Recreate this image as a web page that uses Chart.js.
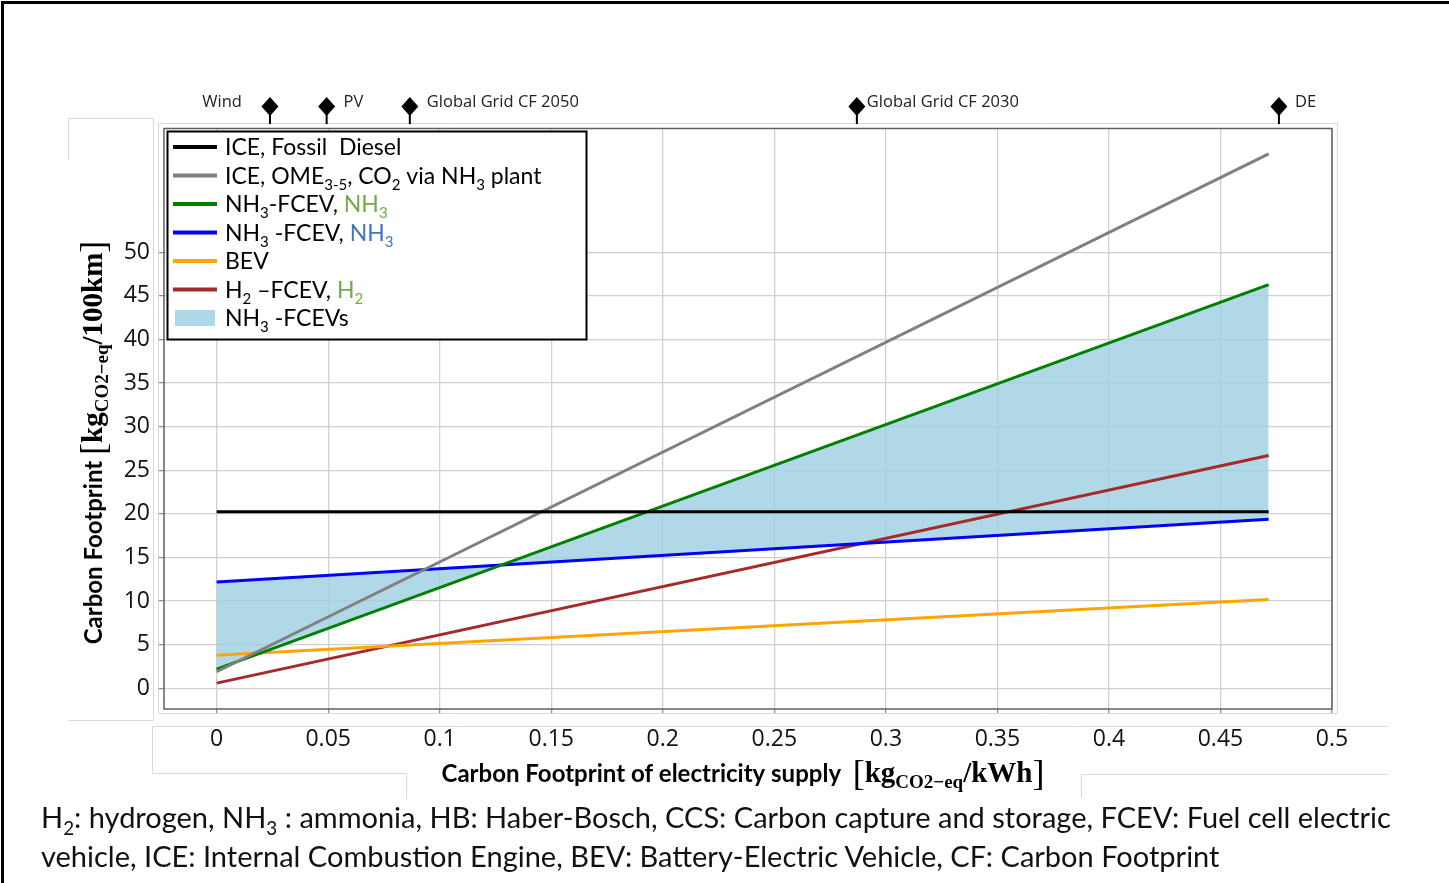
<!DOCTYPE html>
<html>
<head>
<meta charset="utf-8">
<script src="https://cdn.jsdelivr.net/npm/chart.js@4.4.0/dist/chart.umd.min.js"></script>
<style>
   html, body { margin: 0; padding: 0; background: #fff; }
   #wrap { position: relative; width: 1449px; height: 883px; overflow: hidden; }
   #graph { position: absolute; left: 0; top: 0; }
   #frame { position: absolute; left: 1px; top: 1px; width: 1470px; height: 900px;
            border-top: 3px solid #000; border-left: 3px solid #000; pointer-events: none; }
   #caption { position: absolute; left: 41px; top: 797px; white-space: nowrap;
              font-family: Lato, "Open Sans", sans-serif; font-size: 29px; line-height: 39px; color: #111; }
   #caption sub { font-size: 0.65em; vertical-align: -0.35em; line-height: 0; }
</style>
</head>
<body>
<div id="wrap">
   <canvas id="graph" width="1449" height="883"></canvas>
   <div id="frame"></div>
   <div id="caption">H<sub>2</sub>: hydrogen, NH<sub>3</sub> : ammonia, HB: Haber-Bosch, CCS: Carbon capture and storage, FCEV: Fuel cell electric<br>vehicle, ICE: Internal Combustion Engine, BEV: Battery-Electric Vehicle, CF: Carbon Footprint</div>
</div>
<script>
// values (x = electricity CF in kg/kWh, y = kg CO2-eq / 100 km)
const xPoints = [0, 0.4716];
const fossilDiesel = [20.25, 20.25];
const iceOme = [1.9, 61.3];
const nh3FcevGreen = [2.2, 46.3];
const nh3FcevBlue = [12.2, 19.4];
const bev = [3.8, 10.2];
const h2Fcev = [0.6, 26.7];

const xTicks = [0, 0.05, 0.1, 0.15, 0.2, 0.25, 0.3, 0.35, 0.4, 0.45, 0.5];
const yTicks = [0, 5, 10, 15, 20, 25, 30, 35, 40, 45, 50];

const markerLabels = ["Wind", "PV", "Global Grid CF 2050", "Global Grid CF 2030", "DE"];
const markerValues = [0.0239, 0.0493, 0.0866, 0.287, 0.4762];

const fillColor = "rgba(160, 208, 224, 0.82)";
const textFont = "Lato, 'Open Sans', sans-serif";
const mathFont = "'Liberation Serif', 'DejaVu Serif', serif";

function toPoints(ys)
{
   return xPoints.map((x, i) => ({ x: x, y: ys[i] }));
}

function runsWidth(ctx, runs)
{
   let w = 0;
   runs.forEach(r => { ctx.font = r.font; w += ctx.measureText(r.t).width; });
   return w;
}

function drawRuns(ctx, runs, x, y)
{
   runs.forEach(r =>
   {
      ctx.font = r.font;
      ctx.fillStyle = r.color || "#000";
      ctx.fillText(r.t, x, y + (r.dy || 0));
      x += ctx.measureText(r.t).width;
   });
   return x;
}

// legend text pieces
const lf = "23px " + textFont;
const ls = "15px " + textFont;
const green2 = "#70ad47";
const blue2 = "#4472c4";
const legendItems =
[
   { color: "#000000", runs: [{ t: "ICE, Fossil  Diesel", font: lf }] },
   { color: "#808080", runs: [{ t: "ICE, OME", font: lf }, { t: "3-5", font: ls, dy: 6 }, { t: ", CO", font: lf }, { t: "2", font: ls, dy: 6 }, { t: " via NH", font: lf }, { t: "3", font: ls, dy: 6 }, { t: " plant", font: lf }] },
   { color: "#008000", runs: [{ t: "NH", font: lf }, { t: "3", font: ls, dy: 6 }, { t: "-FCEV, ", font: lf }, { t: "NH", font: lf, color: green2 }, { t: "3", font: ls, dy: 6, color: green2 }] },
   { color: "#0000ff", runs: [{ t: "NH", font: lf }, { t: "3", font: ls, dy: 6 }, { t: " -FCEV, ", font: lf }, { t: "NH", font: lf, color: blue2 }, { t: "3", font: ls, dy: 6, color: blue2 }] },
   { color: "#ffa500", runs: [{ t: "BEV", font: lf }] },
   { color: "#a52a2a", runs: [{ t: "H", font: lf }, { t: "2", font: ls, dy: 6 }, { t: " \u2013FCEV, ", font: lf }, { t: "H", font: lf, color: green2 }, { t: "2", font: ls, dy: 6, color: green2 }] },
   { box: true, runs: [{ t: "NH", font: lf }, { t: "3", font: ls, dy: 6 }, { t: " -FCEVs", font: lf }] }
];

const decorPlugin =
{
   id: "decor",
   beforeDraw(chart)
   {
      const ctx = chart.ctx;
      ctx.save();
      ctx.strokeStyle = "#d9d9d9";
      ctx.lineWidth = 1;
      ctx.beginPath();
      // y-title box
      ctx.moveTo(68.5, 160); ctx.lineTo(68.5, 118.5); ctx.lineTo(153.5, 118.5); ctx.lineTo(153.5, 720.5); ctx.lineTo(68.5, 720.5);
      // x-title box
      ctx.moveTo(1388, 726.5); ctx.lineTo(152.5, 726.5); ctx.lineTo(152.5, 773.5); ctx.lineTo(406.5, 773.5); ctx.lineTo(406.5, 799);
      ctx.moveTo(1388, 774.5); ctx.lineTo(1081.5, 774.5); ctx.lineTo(1081.5, 798);
      // outer plot frame
      ctx.rect(158.5, 123.5, 1179, 590);
      ctx.stroke();
      ctx.restore();
   },
   afterDatasetsDraw(chart)
   {
      const ctx = chart.ctx;
      const a = chart.chartArea;
      ctx.save();
      ctx.strokeStyle = "#606060";
      ctx.lineWidth = 1.5;
      ctx.strokeRect(a.left, a.top, a.right - a.left, a.bottom - a.top);
      ctx.restore();
   },
   afterDraw(chart)
   {
      const ctx = chart.ctx;
      const xs = chart.scales.x;
      ctx.save();

      // site markers above the plot
      ctx.textBaseline = "middle";
      markerValues.forEach((v, i) =>
      {
         const px = xs.getPixelForValue(v);
         ctx.fillStyle = "#000";
         ctx.beginPath();
         ctx.moveTo(px, 97);
         ctx.lineTo(px + 8.5, 106.5);
         ctx.lineTo(px, 116);
         ctx.lineTo(px - 8.5, 106.5);
         ctx.closePath();
         ctx.fill();
         ctx.fillRect(px - 1, 112, 2, 12);
         ctx.font = "16.5px 'Open Sans', sans-serif";
         ctx.fillStyle = "#222";
         if (i === 0)
         {
            ctx.textAlign = "right";
            ctx.fillText(markerLabels[i], px - 28, 102);
         }
         else
         {
            ctx.textAlign = "left";
            ctx.fillText(markerLabels[i], px + (i === 3 ? 10 : (i === 4 ? 16 : 17)), 102);
         }
      });

      // legend box
      ctx.textAlign = "left";
      ctx.textBaseline = "alphabetic";
      const lx = 167.5, ly = 131.5, lw = 419, lh = 208;
      ctx.fillStyle = "#fff";
      ctx.fillRect(lx, ly, lw, lh);
      ctx.strokeStyle = "#000";
      ctx.lineWidth = 2;
      ctx.strokeRect(lx, ly, lw, lh);
      legendItems.forEach((item, i) =>
      {
         const cy = 147 + i * 28.5;
         if (item.box)
         {
            ctx.fillStyle = "#add8e6";
            ctx.fillRect(175, cy - 8, 40, 16);
         }
         else
         {
            ctx.strokeStyle = item.color;
            ctx.lineWidth = 4;
            ctx.beginPath();
            ctx.moveTo(173, cy);
            ctx.lineTo(217, cy);
            ctx.stroke();
         }
         drawRuns(ctx, item.runs, 225, cy + 8);
      });

      // axis titles
      const bf = "bold 24px " + textFont;
      const mf = "bold 29px " + mathFont;
      const ms = "bold 19px " + mathFont;
      const bk = "36px " + mathFont;
      const yTitle = [{ t: "Carbon Footprint ", font: bf }, { t: "[", font: bk, dy: 3 }, { t: "kg", font: mf }, { t: "CO2\u2212eq", font: ms, dy: 6 }, { t: "/100km", font: mf }, { t: "]", font: bk, dy: 3 }];
      const xTitle = [{ t: "Carbon Footprint of electricity supply  ", font: bf }, { t: "[", font: bk, dy: 3 }, { t: "kg", font: mf }, { t: "CO2\u2212eq", font: ms, dy: 6 }, { t: "/kWh", font: mf }, { t: "]", font: bk, dy: 3 }];

      ctx.save();
      ctx.translate(102, 442.5);
      ctx.rotate(-Math.PI / 2);
      drawRuns(ctx, yTitle, -runsWidth(ctx, yTitle) / 2, 0);
      ctx.restore();

      drawRuns(ctx, xTitle, 743 - runsWidth(ctx, xTitle) / 2, 782);
      ctx.restore();
   }
};

new Chart(document.getElementById("graph").getContext("2d"),
{
   type: "line",
   data:
   {
      datasets:
      [
         { label: "ICE, Fossil Diesel", data: toPoints(fossilDiesel), borderColor: "#000000", borderWidth: 3, pointRadius: 0, fill: false },
         { label: "ICE, OME3-5, CO2 via NH3 plant", data: toPoints(iceOme), borderColor: "#808080", borderWidth: 3, pointRadius: 0, fill: false },
         { label: "NH3-FCEV, NH3 (green)", data: toPoints(nh3FcevGreen), borderColor: "#008000", borderWidth: 3, pointRadius: 0,
           fill: { target: 3, above: fillColor, below: fillColor } },
         { label: "NH3-FCEV, NH3 (blue)", data: toPoints(nh3FcevBlue), borderColor: "#0000ff", borderWidth: 3, pointRadius: 0, fill: false },
         { label: "BEV", data: toPoints(bev), borderColor: "#ffa500", borderWidth: 3, pointRadius: 0, fill: false },
         { label: "H2-FCEV, H2", data: toPoints(h2Fcev), borderColor: "#a52a2a", borderWidth: 3, pointRadius: 0, fill: false }
      ]
   },
   options:
   {
      responsive: false,
      animation: false,
      layout: { padding: { top: 128.5, right: 117, left: 0, bottom: 0 } },
      scales:
      {
         x:
         {
            type: "linear",
            min: -0.0236,
            max: 0.5,
            afterBuildTicks: scale => { scale.ticks = xTicks.map(v => ({ value: v })); },
            afterFit: scale => { scale.height = 174; },
            grid: { color: "#d0d0d0", lineWidth: 1.3, tickLength: 4, tickColor: "#909090" },
            border: { display: false },
            ticks:
            {
               color: "#111",
               padding: 13,
               maxRotation: 0,
               font: { family: "'Open Sans', sans-serif", size: 23 },
               callback: v => String(v)
            }
         },
         y:
         {
            type: "linear",
            min: -2.37,
            max: 64.2,
            afterBuildTicks: scale => { scale.ticks = yTicks.map(v => ({ value: v })); },
            afterFit: scale => { scale.width = 164; },
            grid: { color: "#d0d0d0", lineWidth: 1.3, tickLength: 5, tickColor: "#909090" },
            border: { display: false },
            ticks:
            {
               color: "#111",
               padding: 9,
               font: { family: "'Open Sans', sans-serif", size: 23 }
            }
         }
      },
      plugins:
      {
         legend: { display: false },
         tooltip: { enabled: false },
         filler: { drawTime: "beforeDatasetsDraw" }
      }
   },
   plugins: [decorPlugin]
});
</script>
</body>
</html>
